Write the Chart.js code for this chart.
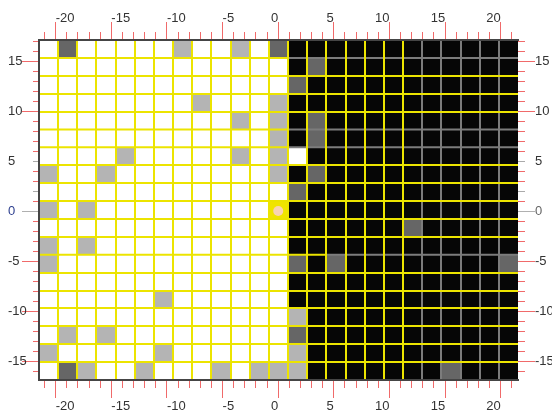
<!DOCTYPE html>
<html><head><meta charset="utf-8">
<script src="https://cdn.jsdelivr.net/npm/chart.js@4"></script>
<style>html,body{margin:0;padding:0;background:#fff}canvas{display:block}</style>
</head><body>
<canvas id="c" width="552" height="417"></canvas>
<script>
// ---- data ----
const xRange = [-21.5, 21.55];
const yRange = [-16.9, 17.1];
const xTickLabels = [-20, -15, -10, -5, 0, 5, 10, 15, 20];
const yTickLabels = [15, 10, 5, 0, -5, -10, -15];
const xMinorTicks = [-21,-20,-19,-18,-17,-16,-15,-14,-13,-12,-11,-10,-9,-8,-7,-6,-5,-4,-3,-2,-1,0,1,2,3,4,5,6,7,8,9,10,11,12,13,14,15,16,17,18,19,20,21];
const yMinorTicks = [-16,-15,-14,-13,-12,-11,-10,-9,-8,-7,-6,-5,-4,-3,-2,-1,0,1,2,3,4,5,6,7,8,9,10,11,12,13,14,15,16,17];
// cell levels: 0 white, 1 light grey, 2 dark grey, 3 black, 4 yellow  (rows top -> bottom, 25 columns)
const cellRows = [
  [0,2,0,0,0,0,0,1,0,0,1,0,2, 3,3,3,3,3,3,3,3,3,3,3,3],
  [0,0,0,0,0,0,0,0,0,0,0,0,0, 3,2,3,3,3,3,3,3,3,3,3,3],
  [0,0,0,0,0,0,0,0,0,0,0,0,0, 2,3,3,3,3,3,3,3,3,3,3,3],
  [0,0,0,0,0,0,0,0,1,0,0,0,1, 3,3,3,3,3,3,3,3,3,3,3,3],
  [0,0,0,0,0,0,0,0,0,0,1,0,1, 3,2,3,3,3,3,3,3,3,3,3,3],
  [0,0,0,0,0,0,0,0,0,0,0,0,1, 3,2,3,3,3,3,3,3,3,3,3,3],
  [0,0,0,0,1,0,0,0,0,0,1,0,1, 0,3,3,3,3,3,3,3,3,3,3,3],
  [1,0,0,1,0,0,0,0,0,0,0,0,1, 3,2,3,3,3,3,3,3,3,3,3,3],
  [0,0,0,0,0,0,0,0,0,0,0,0,0, 2,3,3,3,3,3,3,3,3,3,3,3],
  [1,0,1,0,0,0,0,0,0,0,0,0,4, 3,3,3,3,3,3,3,3,3,3,3,3],
  [0,0,0,0,0,0,0,0,0,0,0,0,0, 3,3,3,3,3,3,2,3,3,3,3,3],
  [1,0,1,0,0,0,0,0,0,0,0,0,0, 3,3,3,3,3,3,3,3,3,3,3,3],
  [1,0,0,0,0,0,0,0,0,0,0,0,0, 2,3,2,3,3,3,3,3,3,3,3,2],
  [0,0,0,0,0,0,0,0,0,0,0,0,0, 3,3,3,3,3,3,3,3,3,3,3,3],
  [0,0,0,0,0,0,1,0,0,0,0,0,0, 3,3,3,3,3,3,3,3,3,3,3,3],
  [0,0,0,0,0,0,0,0,0,0,0,0,0, 1,3,3,3,3,3,3,3,3,3,3,3],
  [0,1,0,1,0,0,0,0,0,0,0,0,0, 2,3,3,3,3,3,3,3,3,3,3,3],
  [1,0,0,0,0,0,1,0,0,0,0,0,0, 1,3,3,3,3,3,3,3,3,3,3,3],
  [0,2,1,0,0,1,0,0,0,1,0,1,1, 1,3,3,3,3,3,3,3,2,3,3,3]
];
const markerPoint = [{x: 0, y: 0}];
// row boundaries whose right part is drawn grey, and the column where the grey part starts
const greyLineRows = [1, 5, 6, 12];
const greyLineFromCol = [13, 13, 13, 15];
const greyColumnLinesFrom = 20;

// ---- styles ----
const levelColors = ['#ffffff', '#b4b4b4', '#666666', '#060606', '#f0e400'];
const gridYellow = '#ece400';
const gridGrey = '#7c7c7c';
const tickRed = '#f06a6a';
const labelFont = {family: "'Liberation Sans', Arial, sans-serif", size: 13};
const labelColor = '#333333';

const nCols = cellRows[0].length, nRows = cellRows.length;
const cw = (xRange[1] - xRange[0]) / nCols;
const rh = (yRange[1] - yRange[0]) / nRows;
const xEdges = Array.from({length: nCols + 1}, (_, i) => xRange[0] + i * cw);
const yEdges = Array.from({length: nRows + 1}, (_, i) => yRange[1] - i * rh);
const xCenters = xEdges.slice(0, -1).map(v => v + cw / 2);

const datasets = cellRows.map((row, r) => ({
  type: 'bar',
  data: row.map((_, c) => ({x: xCenters[c], y: [yEdges[r + 1], yEdges[r]]})),
  backgroundColor: row.map(v => levelColors[v]),
  borderWidth: 0,
  grouped: false,
  barPercentage: 1,
  categoryPercentage: 1,
  xAxisID: 'x', yAxisID: 'y', order: 2
}));
greyLineRows.forEach((b, k) => {
  const from = greyLineFromCol[k];
  [[0, from, gridYellow], [from, nCols, gridGrey]].forEach(([c0, c1, col]) => {
    datasets.push({
      type: 'line', data: [{x: xEdges[c0], y: yEdges[b]}, {x: xEdges[c1], y: yEdges[b]}],
      borderColor: col, borderWidth: 2, pointRadius: 0, fill: false, tension: 0,
      xAxisID: 'x', yAxisID: 'y', order: 1
    });
  });
});
datasets.push({
  type: 'scatter', data: markerPoint, pointRadius: 5, pointHoverRadius: 5,
  backgroundColor: '#f8d3b2', borderWidth: 0, xAxisID: 'x', yAxisID: 'y', order: 0
});

const setTicks = arr => (s => { s.ticks = arr.map(v => ({value: v})); });
const noBorder = {display: false};
function xAxis(pos, weight, opts) {
  return Object.assign({
    type: 'linear', position: pos, min: xRange[0], max: xRange[1], offset: false, weight,
    border: noBorder
  }, opts);
}
function yAxis(pos, weight, opts) {
  return Object.assign({
    type: 'linear', position: pos, min: yRange[0], max: yRange[1], weight, beginAtZero: false,
    border: noBorder
  }, opts);
}
const hidden = {display: false};
const minorX = (pos, w) => xAxis(pos, w, {
  afterBuildTicks: setTicks(xMinorTicks), ticks: hidden,
  grid: {drawOnChartArea: false, offset: false, tickLength: 8, tickColor: tickRed, tickWidth: 1},
  afterFit: s => { s.height = 0; }
});
const labelX = (pos, w, vals, align, pad, h, border) => xAxis(pos, w, {
  afterBuildTicks: setTicks(vals),
  ticks: {display: true, align, autoSkip: false, maxRotation: 0, minRotation: 0, padding: pad,
          color: labelColor, font: labelFont, callback: v => String(v)},
  grid: {drawOnChartArea: false, offset: false, tickLength: 18, tickColor: tickRed, tickWidth: 1},
  border: border ? {display: true, color: '#454545', width: 2, z: 2} : noBorder,
  afterFit: s => { s.height = h; }
});
const yTickCol = ctx => {
  const v = ctx.tick ? ctx.tick.value : null;
  return v === 0 ? '#b0b0b0' : (v === 5 ? 'rgba(0,0,0,0)' : tickRed);
};
const yMinorCol = ctx => (ctx.tick && (ctx.tick.value === 5 || ctx.tick.value === 2) ? '#aaaaaa' : tickRed);

// zero-height label axes: let their labels draw outside the (empty) box
const unclipLabels = {
  id: 'unclipLabels',
  afterLayout(chart) {
    chart.scales.xNegBot.bottom = chart.height;
    chart.scales.xPosTop.top = 0;
  }
};

new Chart(document.getElementById('c'), {
  type: 'bar',
  data: {datasets},
  plugins: [unclipLabels],
  options: {
    responsive: false, devicePixelRatio: 1, animation: false, events: [],
    layout: {padding: {left: 8, right: 0, top: 0, bottom: 0}},
    plugins: {legend: {display: false}, tooltip: {enabled: false}},
    scales: {
      x: xAxis('bottom', 0, {
        afterBuildTicks: setTicks(xEdges.slice(1, -1)), ticks: hidden,
        grid: {offset: false, drawTicks: false, z: 1, lineWidth: 2,
               color: ctx => (ctx.index + 1 >= greyColumnLinesFrom ? gridGrey : gridYellow)},
        afterFit: s => { s.height = 0; }
      }),
      y: yAxis('left', 0, {
        afterBuildTicks: setTicks(yEdges.slice(1, -1)), ticks: hidden,
        grid: {drawTicks: false, z: 1, lineWidth: 2,
               color: ctx => (greyLineRows.includes(ctx.index + 1) ? 'rgba(0,0,0,0)' : gridYellow)},
        afterFit: s => { s.width = 0; }
      }),
      xMinBot: minorX('bottom', 1),
      xNegBot: labelX('bottom', 2, xTickLabels.filter(v => v < 0), 'start', 1, 0, false),
      xPosBot: labelX('bottom', 3, xTickLabels.filter(v => v >= 0), 'end', 1, 37, true),
      xMinTop: minorX('top', 1),
      xPosTop: labelX('top', 2, xTickLabels.filter(v => v >= 0), 'end', -4, 0, false),
      xNegTop: labelX('top', 3, xTickLabels.filter(v => v < 0), 'start', -4, 40, true),
      yMinL: yAxis('left', 1, {
        afterBuildTicks: setTicks(yMinorTicks), ticks: hidden,
        grid: {drawOnChartArea: false, tickLength: 6, tickWidth: 1, tickColor: yMinorCol},
        afterFit: s => { s.width = 0; }
      }),
      yMajL: yAxis('left', 2, {
        afterBuildTicks: setTicks(yTickLabels),
        ticks: {display: true, crossAlign: 'far', autoSkip: false, padding: 2, font: labelFont,
                color: ctx => (ctx.tick && ctx.tick.value === 0 ? '#2d3f8f' : labelColor),
                callback: v => String(v)},
        grid: {drawOnChartArea: false, tickLength: 17, tickWidth: 1, tickColor: yTickCol},
        border: {display: true, color: '#454545', width: 2, z: 2},
        afterFit: s => { s.width = 31; }
      }),
      yMinR: yAxis('right', 0, {
        afterBuildTicks: setTicks(yMinorTicks), ticks: hidden,
        grid: {drawOnChartArea: false, tickLength: 7, tickWidth: 1, tickColor: yMinorCol},
        afterFit: s => { s.width = 0; }
      }),
      yMajR: yAxis('right', 1, {
        afterBuildTicks: setTicks(yTickLabels),
        ticks: {display: true, autoSkip: false, padding: 0, font: labelFont,
                color: ctx => (ctx.tick && ctx.tick.value === 0 ? '#666666' : labelColor),
                callback: v => String(v)},
        grid: {drawOnChartArea: false, tickLength: 17, tickWidth: 1, tickColor: yTickCol},
        afterFit: s => { s.width = 34; }
      })
    }
  }
});
</script>
</body></html>
